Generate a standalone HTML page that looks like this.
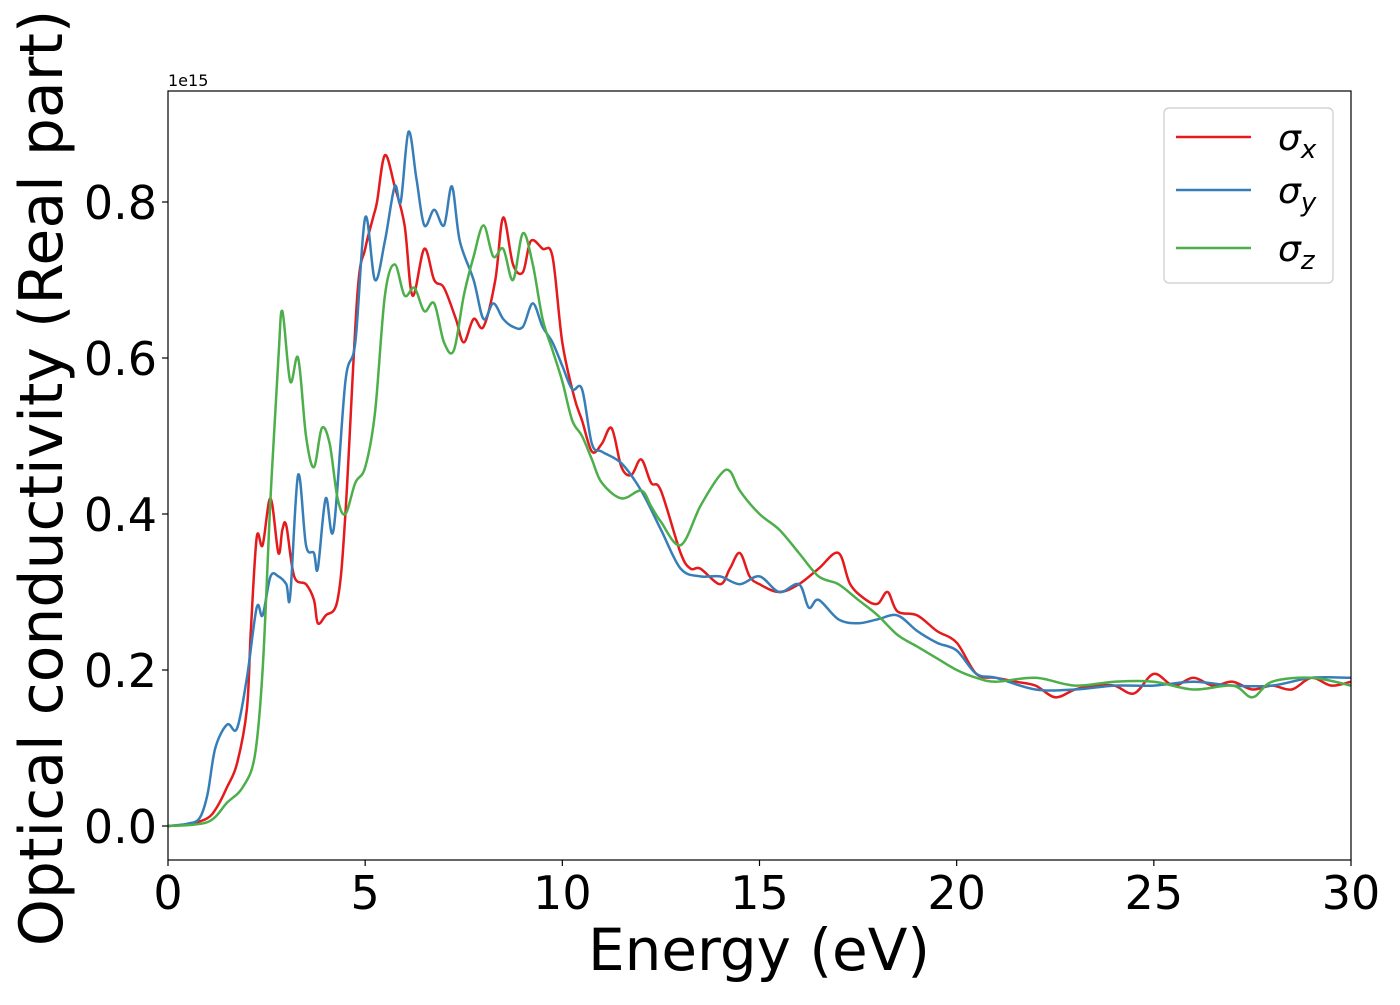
<!DOCTYPE html>
<html><head><meta charset="utf-8"><style>
body{margin:0;background:#fff;}
svg text{font-family:"DejaVu Sans","Liberation Sans",sans-serif;fill:#000;}
</style></head><body>
<svg id="chart" width="1400" height="1000" xmlns="http://www.w3.org/2000/svg">
<rect width="1400" height="1000" fill="#fff"/>
<g id="series"></g>
<g id="axes"></g>
<rect x="168" y="91" width="1183" height="769" fill="none" stroke="#000" stroke-width="1.2"/>
<text x="168" y="86" font-size="16">1e15</text>
<text x="759" y="970" font-size="58" text-anchor="middle">Energy (eV)</text>
<text transform="translate(62,478) rotate(-90)" font-size="60" text-anchor="middle">Optical conductivity (Real part)</text>
<g>
<rect x="1164" y="108" width="169" height="175" rx="5" fill="#fff" stroke="#ccc" stroke-width="1.2"/>
<line x1="1176" y1="137" x2="1251" y2="137" stroke="#e41a1c" stroke-width="2.5"/>
<text x="1278" y="150" font-size="36" font-style="italic">σ<tspan font-size="26" dy="8">x</tspan></text>
<line x1="1176" y1="190" x2="1251" y2="190" stroke="#377eb8" stroke-width="2.5"/>
<text x="1278" y="203" font-size="36" font-style="italic">σ<tspan font-size="26" dy="8">y</tspan></text>
<line x1="1176" y1="248" x2="1251" y2="248" stroke="#4daf4a" stroke-width="2.5"/>
<text x="1278" y="261" font-size="36" font-style="italic">σ<tspan font-size="26" dy="8">z</tspan></text>
</g>
</svg>
<script>
const xTicks=[0,5,10,15,20,25,30];
const yTicks=[0,0.2,0.4,0.6,0.8];
const yTickLabels=["0.0","0.2","0.4","0.6","0.8"];
const sxE=[0,0.5,1,1.25,1.5,1.75,2,2.1,2.25,2.4,2.6,2.8,2.9,3.0,3.2,3.5,3.7,3.8,4.0,4.3,4.5,4.8,5.0,5.2,5.3,5.5,5.75,6.0,6.2,6.5,6.75,7.0,7.3,7.5,7.75,8.0,8.3,8.5,8.75,9.0,9.2,9.5,9.75,10,10.3,10.5,10.75,11,11.25,11.5,11.75,12,12.25,12.5,13,13.25,13.5,14,14.25,14.5,14.75,15,15.5,16,16.5,17,17.3,17.7,18,18.25,18.5,19,19.5,20,20.5,21,21.5,22,22.5,23,23.5,24,24.5,25,25.5,26,26.5,27,27.5,28,28.5,29,29.5,30];
const sxV=[0,0.002,0.01,0.025,0.05,0.08,0.15,0.25,0.37,0.36,0.42,0.35,0.38,0.385,0.32,0.31,0.29,0.26,0.27,0.29,0.4,0.68,0.74,0.78,0.8,0.86,0.82,0.77,0.68,0.74,0.70,0.69,0.65,0.62,0.65,0.64,0.70,0.78,0.72,0.71,0.75,0.74,0.73,0.62,0.55,0.52,0.48,0.49,0.51,0.46,0.45,0.47,0.44,0.43,0.35,0.33,0.33,0.31,0.33,0.35,0.32,0.31,0.30,0.31,0.33,0.35,0.31,0.29,0.285,0.30,0.275,0.27,0.25,0.235,0.195,0.19,0.185,0.18,0.165,0.175,0.18,0.18,0.17,0.195,0.18,0.19,0.18,0.185,0.175,0.18,0.175,0.19,0.18,0.185];
const syE=[0,0.5,0.8,1.0,1.2,1.5,1.75,2.0,2.25,2.4,2.6,2.8,3.0,3.1,3.3,3.5,3.7,3.8,4.0,4.2,4.5,4.75,5.0,5.25,5.5,5.75,5.9,6.1,6.3,6.5,6.75,7.0,7.2,7.4,7.75,8.0,8.25,8.5,8.75,9.0,9.25,9.5,9.75,10.0,10.25,10.5,10.75,11,11.5,12,12.5,13,13.5,14,14.5,15,15.5,16,16.25,16.5,17,17.5,18,18.5,19,19.5,20,20.5,21,22,23,24,25,26,27,28,29,30];
const syV=[0,0.003,0.01,0.04,0.1,0.13,0.125,0.19,0.28,0.27,0.32,0.32,0.31,0.295,0.45,0.36,0.35,0.33,0.42,0.38,0.57,0.62,0.78,0.70,0.75,0.82,0.80,0.89,0.83,0.77,0.79,0.77,0.82,0.75,0.70,0.65,0.67,0.65,0.64,0.64,0.67,0.64,0.62,0.59,0.56,0.56,0.49,0.48,0.465,0.43,0.38,0.33,0.32,0.32,0.31,0.32,0.30,0.31,0.28,0.29,0.265,0.26,0.265,0.27,0.25,0.235,0.225,0.195,0.19,0.175,0.175,0.18,0.18,0.185,0.18,0.18,0.19,0.19];
const szE=[0,1.0,1.5,1.9,2.2,2.4,2.6,2.8,2.9,3.1,3.3,3.5,3.7,3.9,4.1,4.3,4.5,4.75,5.0,5.25,5.5,5.75,6.0,6.25,6.5,6.75,7.0,7.25,7.5,7.75,8.0,8.25,8.5,8.75,9.0,9.25,9.5,9.75,10,10.25,10.5,10.75,11,11.5,12,12.25,12.5,13,13.5,14,14.25,14.5,15,15.5,16,16.5,17,17.5,18,18.5,19,19.5,20,20.5,21,22,23,24,25,26,27,27.5,28,29,30];
const szV=[0,0.005,0.03,0.05,0.09,0.2,0.42,0.6,0.66,0.57,0.60,0.50,0.46,0.51,0.49,0.42,0.40,0.44,0.46,0.53,0.68,0.72,0.68,0.69,0.66,0.67,0.62,0.61,0.68,0.73,0.77,0.73,0.74,0.70,0.76,0.72,0.65,0.61,0.57,0.52,0.50,0.47,0.44,0.42,0.43,0.41,0.39,0.36,0.41,0.45,0.455,0.43,0.40,0.38,0.35,0.32,0.31,0.29,0.27,0.245,0.23,0.215,0.20,0.19,0.185,0.19,0.18,0.185,0.185,0.175,0.18,0.165,0.185,0.19,0.18];

const NS="http://www.w3.org/2000/svg";
const X=e=>168+e*(1183/30);
const Y=v=>826-v*780;
const axes=document.getElementById('axes');
const series=document.getElementById('series');
function mk(tag,attrs,parent){const el=document.createElementNS(NS,tag);for(const k in attrs)el.setAttribute(k,attrs[k]);parent.appendChild(el);return el;}
xTicks.forEach(t=>{
  const l=mk('line',{x1:X(t),x2:X(t),y1:860,y2:866,stroke:'#000','stroke-width':1.2},axes);
  
  
  const tx=mk('text',{x:X(t),y:909,'font-size':46,'text-anchor':'middle'},axes);
  tx.textContent=String(t);
  
  
});
yTicks.forEach((t,i)=>{
  const l=mk('line',{x1:162,x2:168,y1:Y(t),y2:Y(t),stroke:'#000','stroke-width':1.2},axes);
  
  
  const tx=mk('text',{x:157,y:Y(t)+17,'font-size':46,'text-anchor':'end'},axes);
  tx.textContent=yTickLabels[i];
  
  
});
function path(E,V){
  const p=E.map((e,i)=>[X(e),Y(V[i])]);
  let d='M'+p[0][0].toFixed(1)+','+p[0][1].toFixed(1);
  for(let i=0;i<p.length-1;i++){
    const p0=p[Math.max(0,i-1)],p1=p[i],p2=p[i+1],p3=p[Math.min(p.length-1,i+2)];
    const c1=[p1[0]+(p2[0]-p0[0])/6,p1[1]+(p2[1]-p0[1])/6];
    const c2=[p2[0]-(p3[0]-p1[0])/6,p2[1]-(p3[1]-p1[1])/6];
    d+=' C'+c1[0].toFixed(1)+','+c1[1].toFixed(1)+' '+c2[0].toFixed(1)+','+c2[1].toFixed(1)+' '+p2[0].toFixed(1)+','+p2[1].toFixed(1);
  }
  return d;
}
const px=mk('path',{d:path(sxE,sxV),fill:'none',stroke:'#e41a1c','stroke-width':2.5},series);


const py=mk('path',{d:path(syE,syV),fill:'none',stroke:'#377eb8','stroke-width':2.5},series);


const pz=mk('path',{d:path(szE,szV),fill:'none',stroke:'#4daf4a','stroke-width':2.5},series);


</script>
</body></html>
